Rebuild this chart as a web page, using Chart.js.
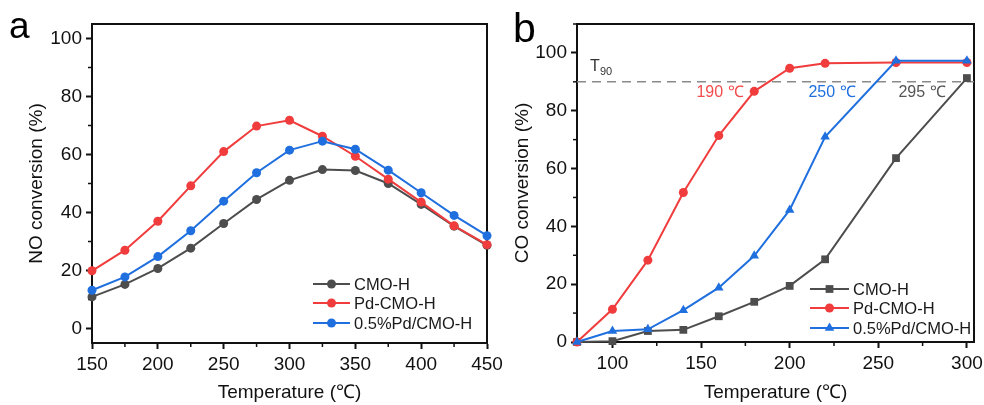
<!DOCTYPE html>
<html>
<head>
<meta charset="utf-8">
<script src="https://cdn.jsdelivr.net/npm/chart.js@4.4.1/dist/chart.umd.min.js"></script>
<style>
  body { margin: 0; background: #fff; }
  #wrap { position: relative; width: 984px; height: 405px; overflow: hidden; }
  #chA { position: absolute; left: 0; top: 0; }
  #chB { position: absolute; left: 490px; top: 0; }
</style>
</head>
<body>
<div id="wrap">
  <canvas id="chA" width="530" height="405"></canvas>
  <canvas id="chB" width="494" height="405"></canvas>
</div>
<script>
var colors = ['#4d4d4d', '#f03c3c', '#1f6fdf'];
var seriesNames = ['CMO-H', 'Pd-CMO-H', '0.5%Pd/CMO-H'];

// panel a: NO conversion
var tempA = [150, 175, 200, 225, 250, 275, 300, 325, 350, 375, 400, 425, 450];
var noCmo  = [10.9, 15.2, 20.7, 27.7, 36.2, 44.5, 51.1, 54.8, 54.5, 50.0, 42.8, 35.3, 28.7];
var noPd   = [19.9, 27.0, 37.0, 49.2, 61.0, 69.8, 71.8, 66.3, 59.4, 51.5, 43.6, 35.4, 28.9];
var noPd05 = [13.2, 17.8, 24.8, 33.7, 43.9, 53.7, 61.5, 64.6, 61.8, 54.6, 46.8, 39.0, 32.0];
var ticksAx = [150, 200, 250, 300, 350, 400, 450];
var ticksAy = [0, 20, 40, 60, 80, 100];

// panel b: CO conversion
var tempB = [80, 100, 120, 140, 160, 180, 200, 220, 260, 300];
var coCmo  = [0, 0.3, 3.8, 4.2, 8.9, 13.9, 19.4, 28.6, 63.6, 91.3];
var coPd   = [0, 11.3, 28.3, 51.7, 71.4, 86.7, 94.7, 96.4, 96.7, 96.7];
var coPd05 = [0, 3.8, 4.4, 11.0, 18.8, 29.8, 45.7, 71.0, 97.3, 97.3];
var ticksBx = [100, 150, 200, 250, 300];
var ticksBy = [0, 20, 40, 60, 80, 100];
var t90 = 90;
var t90Labels = ['190 ℃', '250 ℃', '295 ℃'];

var FONT = "'Liberation Sans', Arial, sans-serif";
var INK = '#111';

function mids(arr, lo, hi) {
  var out = [];
  var step = arr[1] - arr[0];
  for (var v = arr[0] - step / 2; v <= hi; v += step) {
    if (v >= lo) out.push(v);
  }
  return out;
}

function pts(xs, ys) {
  return xs.map(function (x, i) { return { x: x, y: ys[i] }; });
}

function series(xs, ys, i, style, radius) {
  return {
    label: seriesNames[i],
    data: pts(xs, ys),
    borderColor: colors[i],
    backgroundColor: colors[i],
    borderWidth: 2,
    pointStyle: style,
    pointRadius: radius,
    pointHoverRadius: radius,
    pointBorderWidth: 0,
    clip: false,
    order: 3 - i
  };
}

// box, minor ticks, custom legend, labels
var decor = {
  id: 'decor',
  beforeDatasetsDraw: function (chart, args, o) {
    var ctx = chart.ctx, a = chart.chartArea;
    var sx = chart.scales.x, sy = chart.scales.y;
    ctx.save();
    ctx.strokeStyle = INK;
    ctx.lineWidth = 2;
    ctx.strokeRect(a.left, a.top, a.right - a.left, a.bottom - a.top);
    ctx.lineWidth = 1.5;
    o.minorX.forEach(function (v) {
      var x = sx.getPixelForValue(v);
      ctx.beginPath(); ctx.moveTo(x, a.bottom); ctx.lineTo(x, a.bottom + 4); ctx.stroke();
    });
    o.minorY.forEach(function (v) {
      var y = sy.getPixelForValue(v);
      ctx.beginPath(); ctx.moveTo(a.left, y); ctx.lineTo(a.left - 4, y); ctx.stroke();
    });
    ctx.restore();
  },
  afterDraw: function (chart, args, o) {
    var ctx = chart.ctx, a = chart.chartArea;
    ctx.save();
    // legend
    var lg = o.legend;
    chart.data.datasets.forEach(function (ds, i) {
      if (i >= seriesNames.length) return;
      var x0 = a.left + lg.x, y = a.bottom - lg.rows[i];
      ctx.strokeStyle = ds.borderColor;
      ctx.fillStyle = ds.backgroundColor;
      ctx.lineWidth = 2;
      ctx.beginPath(); ctx.moveTo(x0, y); ctx.lineTo(x0 + lg.len, y); ctx.stroke();
      Chart.helpers.drawPoint(ctx, { pointStyle: ds.pointStyle, radius: ds.pointRadius, rotation: 0, borderWidth: 0 }, x0 + lg.len / 2, y);
      ctx.fillStyle = '#1a1a1a';
      ctx.font = '16.5px ' + FONT;
      ctx.textBaseline = 'middle';
      ctx.textAlign = 'left';
      ctx.fillText(ds.label, x0 + lg.len + 4, y + 1);
    });
    // panel letter
    ctx.fillStyle = '#000';
    ctx.font = o.letter.size + 'px ' + FONT;
    ctx.textBaseline = 'alphabetic';
    ctx.textAlign = 'left';
    ctx.fillText(o.letter.text, o.letter.x, o.letter.y);
    // notes
    (o.notes || []).forEach(function (n) {
      ctx.fillStyle = n.color;
      ctx.font = n.size + 'px ' + FONT;
      ctx.textAlign = n.align || 'center';
      ctx.textBaseline = 'middle';
      ctx.fillText(n.text, n.x, n.y);
    });
    ctx.restore();
  }
};

function axes(xmin, xmax, xticks, ymin, ymax, yticks, ytitle, ywidth, xheight, ytitlePad) {
  var grid = { display: true, drawOnChartArea: false, drawTicks: true, tickLength: 6, tickWidth: 2, tickColor: INK };
  return {
    x: {
      type: 'linear', min: xmin, max: xmax,
      afterBuildTicks: function (s) { s.ticks = xticks.map(function (v) { return { value: v }; }); },
      afterFit: function (s) { s.height = xheight; s.paddingLeft = 0; s.paddingRight = 0; },
      grid: grid,
      border: { display: true, width: 2, color: INK },
      ticks: { color: INK, padding: 4, maxRotation: 0, font: { family: FONT, size: 19 } },
      title: { display: true, text: 'Temperature (℃)', color: INK, padding: { top: 0, bottom: 1 }, font: { family: FONT, size: 19 } }
    },
    y: {
      type: 'linear', min: ymin, max: ymax,
      afterBuildTicks: function (s) { s.ticks = yticks.map(function (v) { return { value: v }; }); },
      afterFit: function (s) { s.width = ywidth; s.paddingTop = 0; s.paddingBottom = 0; },
      grid: grid,
      border: { display: true, width: 2, color: INK },
      ticks: { color: INK, padding: 4, font: { family: FONT, size: 19 } },
      title: { display: true, text: ytitle, color: INK, padding: { top: ytitlePad, bottom: 0 }, font: { family: FONT, size: 19 } }
    }
  };
}

var baseOpts = {
  responsive: false,
  animation: false,
  devicePixelRatio: 1,
  plugins: { legend: { display: false }, tooltip: { enabled: false } }
};

new Chart(document.getElementById('chA'), {
  type: 'line',
  data: {
    datasets: [
      series(tempA, noCmo, 0, 'circle', 4.5),
      series(tempA, noPd, 1, 'circle', 4.5),
      series(tempA, noPd05, 2, 'circle', 4.5)
    ]
  },
  options: Object.assign({}, baseOpts, {
    layout: { padding: { top: 24, right: 43, left: 0, bottom: 0 } },
    scales: axes(150, 450, ticksAx, -5, 105, ticksAy, 'NO conversion (%)', 92, 62, 25),
    plugins: Object.assign({}, baseOpts.plugins, {
      decor: {
        minorX: mids(ticksAx, 150, 450),
        minorY: mids(ticksAy, -5, 105),
        legend: { x: 221, len: 37, rows: [59, 40, 20] },
        letter: { text: 'a', size: 37, x: 9, y: 38 }
      }
    })
  }),
  plugins: [decor]
});

var t90Set = {
  label: 'T90',
  data: [{ x: 80, y: t90 }, { x: 304, y: t90 }],
  borderColor: '#8a8a8a',
  borderWidth: 1.5,
  borderDash: [9, 6],
  pointRadius: 0,
  order: 5
};

new Chart(document.getElementById('chB'), {
  type: 'line',
  data: {
    datasets: [
      series(tempB, coCmo, 0, 'rect', 5.5),
      series(tempB, coPd, 1, 'circle', 4.5),
      series(tempB, coPd05, 2, 'triangle', 5.5),
      t90Set
    ]
  },
  options: Object.assign({}, baseOpts, {
    layout: { padding: { top: 24, right: 10, left: 0, bottom: 0 } },
    scales: axes(80, 304, ticksBx, 0, 110, ticksBy, 'CO conversion (%)', 87, 63, 21),
    plugins: Object.assign({}, baseOpts.plugins, {
      decor: {
        minorX: mids(ticksBx, 80, 304),
        minorY: mids(ticksBy, 0, 110),
        legend: { x: 233, len: 39, rows: [53, 34, 14] },
        letter: { text: 'b', size: 41, x: 23, y: 42 },
        notes: [
          { text: 'T', color: '#333', size: 16, x: 100, y: 67, align: 'left' },
          { text: '90', color: '#333', size: 11, x: 110, y: 72, align: 'left' },
          { text: t90Labels[0], color: '#f24c4c', size: 16, x: 230, y: 93 },
          { text: t90Labels[1], color: colors[2], size: 16, x: 342, y: 93 },
          { text: t90Labels[2], color: '#555', size: 16, x: 432, y: 93 }
        ]
      }
    })
  }),
  plugins: [decor]
});
</script>
</body>
</html>
